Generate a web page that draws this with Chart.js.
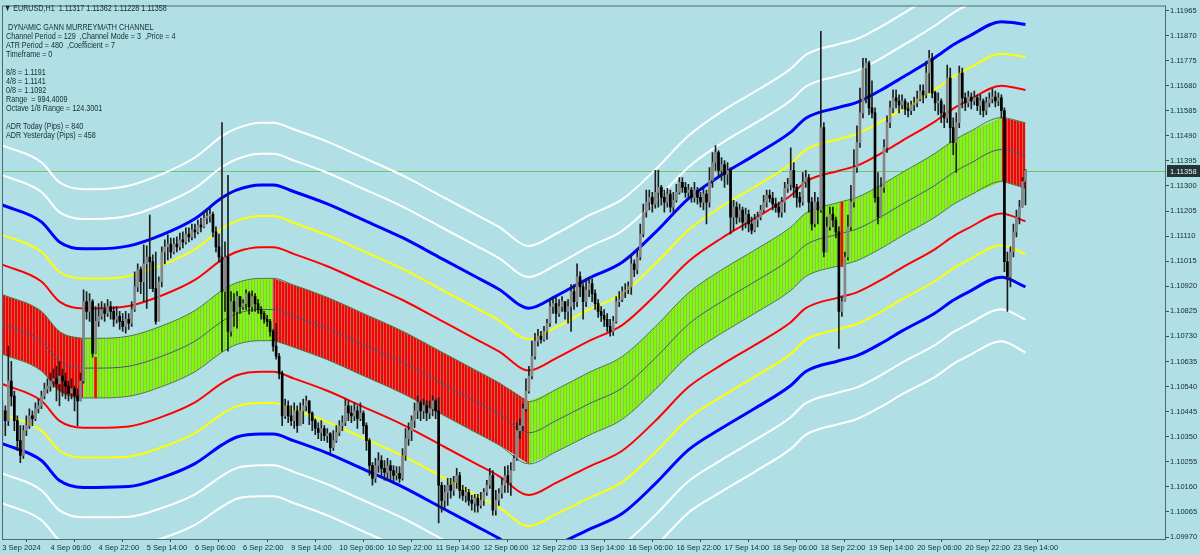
<!DOCTYPE html>
<html>
<head>
<meta charset="utf-8">
<script src="https://cdn.jsdelivr.net/npm/chart.js@4.4.1/dist/chart.umd.min.js"></script>
<style>
html, body { margin: 0; padding: 0; background: #b0e0e6; }
#wrap { position: relative; width: 1200px; height: 555px; }
#info div { position: absolute; white-space: pre; font: 9px "Liberation Sans", Arial, sans-serif; color: #142c2c; line-height: 10px; transform: scaleX(0.8); transform-origin: 0 0; }
</style>
</head>
<body>
<div id="wrap">
  <canvas id="mt" width="1200" height="555"></canvas>
  <div id="info"></div>
</div>
<script>
// prices in points above 1.10000 (1.11358 -> 1358)
const firstOpen = 411;
const closePts = [
  448,411,561,504,411,335,279,373,392,429,418,456,467,504,531,542,561,569,550,580,
  561,542,515,531,504,486,561,862,825,862,666,787,806,832,817,843,825,795,806,787,
  768,795,780,832,918,983,937,1005,1031,1013,911,787,937,1050,1069,1080,1050,1080,1069,1096,
  1088,1118,1107,1133,1126,1152,1145,1178,1186,1193,1126,1069,1031,900,1031,749,862,825,881,843,
  854,892,843,881,854,832,817,795,787,749,693,655,591,429,467,429,411,448,392,448,
  467,486,440,411,381,366,381,354,362,309,335,366,392,403,467,440,429,448,418,440,
  392,335,241,192,241,260,230,215,241,222,203,211,192,279,343,373,411,448,478,448,
  467,440,456,486,448,166,109,139,166,147,177,203,147,128,139,109,98,117,90,109,
  139,166,203,72,109,136,166,203,177,222,268,373,392,456,523,580,655,712,731,719,
  749,780,843,854,817,843,862,825,843,900,862,956,918,862,907,930,892,854,825,810,
  795,768,749,787,862,870,900,907,918,1005,983,1031,1118,1201,1239,1257,1231,1276,1295,1257,
  1239,1269,1220,1246,1276,1314,1295,1276,1284,1257,1284,1257,1239,1269,1239,1321,1389,1427,1359,1381,
  1344,1359,1182,1220,1182,1209,1163,1193,1156,1133,1171,1182,1209,1239,1265,1254,1231,1220,1201,1239,
  1291,1306,1359,1295,1257,1239,1314,1332,1239,1156,1239,1209,1521,1050,1145,1193,1171,1126,825,862,
  1031,1145,1239,1370,1464,1577,1747,1766,1596,1577,1257,1182,1295,1446,1540,1596,1634,1622,1607,1622,
  1592,1585,1607,1615,1630,1660,1645,1728,1784,1653,1615,1622,1577,1558,1709,1521,1464,1540,1728,1634,
  1615,1637,1622,1634,1604,1622,1585,1615,1630,1637,1622,1634,1585,1013,956,1050,1126,1182,1220,1317,
  1358
];
const highPts = [
  486,467,693,636,523,429,392,392,429,456,448,478,493,523,553,569,591,606,617,636,
  606,591,561,569,542,531,591,907,900,892,870,843,854,862,854,870,862,843,843,825,
  817,825,817,862,975,1005,994,1077,1073,1190,1039,1050,956,1069,1096,1115,1103,1103,1107,1122,
  1126,1141,1141,1156,1156,1171,1178,1201,1209,1216,1201,1145,1118,1540,1088,1340,900,892,900,881,
  870,907,900,903,892,870,843,825,810,795,757,780,666,599,493,486,467,478,467,478,
  493,504,486,444,418,403,411,392,381,366,373,392,411,429,493,486,467,478,467,478,
  448,403,343,252,268,290,279,260,268,260,241,237,237,305,381,403,429,478,504,486,
  493,486,486,504,493,497,177,166,192,192,200,230,215,166,158,151,128,132,132,139,
  154,185,230,222,147,154,192,237,241,252,279,403,418,474,569,617,712,742,757,749,
  768,795,870,877,877,870,881,862,870,926,926,1005,975,930,945,952,948,907,870,843,
  832,817,795,806,881,900,918,930,937,1039,1020,1058,1156,1231,1284,1284,1276,1359,1359,1302,
  1284,1291,1284,1276,1306,1332,1332,1314,1306,1295,1314,1295,1276,1295,1284,1370,1427,1453,1434,1408,
  1396,1389,1370,1246,1239,1231,1220,1216,1209,1182,1193,1201,1227,1265,1284,1284,1276,1254,1239,1257,
  1314,1329,1445,1389,1306,1276,1351,1359,1344,1257,1276,1257,1886,1540,1182,1220,1220,1182,1145,881,
  1050,1190,1302,1438,1528,1671,1784,1784,1773,1698,1596,1351,1332,1476,1566,1622,1664,1664,1645,1645,
  1630,1615,1622,1637,1660,1683,1683,1773,1814,1803,1660,1653,1630,1607,1758,1747,1558,1577,1754,1747,
  1653,1660,1653,1660,1645,1645,1630,1637,1653,1668,1660,1653,1645,1596,1050,1069,1156,1209,1246,1332,
  1362
];
const lowPts = [
  335,354,392,467,373,298,252,268,354,381,392,411,440,456,493,515,523,538,486,467,
  504,493,486,493,448,392,486,553,795,787,651,666,768,795,787,806,795,768,780,757,
  749,742,757,768,825,900,892,862,836,911,900,776,825,918,1005,1020,1027,1043,1050,1058,
  1065,1080,1088,1096,1103,1118,1126,1141,1156,1163,1107,1050,1013,674,825,674,731,768,761,817,
  832,832,814,825,825,817,795,780,768,731,674,644,569,392,418,403,392,381,366,392,
  399,448,396,373,358,343,335,335,328,290,298,328,354,373,392,411,403,411,381,411,
  362,298,203,166,177,215,203,185,192,185,177,185,177,185,260,317,335,384,418,411,
  418,411,418,429,418,23,64,79,90,117,128,154,117,109,102,90,72,64,64,79,
  90,128,154,53,53,90,117,139,139,128,222,260,343,373,448,515,569,644,693,704,
  712,719,768,817,780,806,825,795,780,749,832,843,881,795,843,881,862,832,802,787,
  768,749,731,734,780,843,862,877,892,889,956,967,1020,1107,1182,1209,1201,1216,1220,1227,
  1201,1220,1201,1201,1239,1269,1276,1257,1254,1239,1239,1231,1220,1209,1156,1220,1295,1359,1332,1321,
  1295,1306,1118,1133,1156,1163,1133,1141,1126,1118,1126,1145,1171,1201,1220,1239,1209,1201,1182,1182,
  1201,1276,1284,1257,1220,1220,1227,1295,1201,1133,1145,1156,1201,1031,1050,1133,1145,1103,685,806,
  862,1020,1133,1220,1351,1446,1558,1615,1570,1558,1239,1156,1182,1276,1427,1521,1577,1596,1577,1592,
  1570,1562,1570,1585,1600,1622,1615,1634,1653,1634,1585,1570,1540,1521,1540,1464,1419,1351,1521,1596,
  1585,1600,1592,1607,1585,1570,1562,1570,1600,1615,1600,1604,1558,975,825,918,1031,1107,1156,1220,
  1228
];

// channel centre (4/8) and octave size, sampled at these bars
const centerBars = [0,13,19,27,31,42,53,64,73,78,86,90,97,108,119,133,146,157,165,175,184,195,206,217,228,239,250,262,267,278,284,293,299,310,316,321,332,340];
const centerPts  = [776,712,636,610,610,617,655,712,787,817,832,832,806,760,704,632,553,486,437,365,411,475,535,648,776,862,937,1024,1077,1118,1137,1190,1231,1303,1351,1382,1438,1415];
const octavePts  = [113,113,113,113,113,114,115,116,117,117,118,118,118,118,118,118,118,118,118,118,118,119,119,119,119,120,120,120,120,120,120,120,120,121,121,121,121,124.3];

// histogram regime between 5/8 and 3/8
const regimeStart = [0, 27, 90, 175, 332];
const regimeEnd   = [27, 90, 175, 332, 340];
const regimeColor = ['red', 'green', 'red', 'green', 'red'];
const flipBars = [31, 279];
const flipLoPts = [497, 994];
const flipHiPts = [651, 1239];

const lastPts = 1358;

const xTickBars = [0,16,32,48,64,80,96,112,128,144,160,176,192,208,224,240,256,272,288,304,320,336];
const xLabels = ['3 Sep 2024','4 Sep 06:00','4 Sep 22:00','5 Sep 14:00','6 Sep 06:00','6 Sep 22:00','9 Sep 14:00',
  '10 Sep 06:00','10 Sep 22:00','11 Sep 14:00','12 Sep 06:00','12 Sep 22:00','13 Sep 14:00','16 Sep 06:00',
  '16 Sep 22:00','17 Sep 14:00','18 Sep 06:00','18 Sep 22:00','19 Sep 14:00','20 Sep 06:00','20 Sep 22:00','23 Sep 14:00'];
const yTickPts = [-30,65,160,255,350,445,540,635,730,825,920,1015,1110,1205,1300,1395,1490,1585,1680,1775,1870,1965];

const infoLines = [
  [4, 7.5, '\u25BC EURUSD,H1  1.11317 1.11362 1.11228 1.11358'],
  [6, 26.7, ' DYNAMIC GANN MURREYMATH CHANNEL'],
  [6, 35.7, 'Channel Period = 129  ,Channel Mode = 3  ,Price = 4'],
  [6, 44.7, 'ATR Period = 480  ,Coefficient = 7'],
  [6, 53.7, 'Timeframe = 0'],
  [6, 71.7, '8/8 = 1.1191'],
  [6, 80.7, '4/8 = 1.1141'],
  [6, 89.7, '0/8 = 1.1092'],
  [6, 98.7, 'Range  = 994.4009'],
  [6, 107.7, 'Octave 1/8 Range = 124.3001'],
  [6, 126, 'ADR Today (Pips) = 840'],
  [6, 135, 'ADR Yesterday (Pips) = 458']
];

const P = v => 1.1 + v / 100000;
const TXT = '#142c2c';
const FONT = { family: '"Liberation Sans", Arial, sans-serif', size: 7.5 };

const info = document.getElementById('info');
infoLines.forEach(([x, y, t]) => {
  const d = document.createElement('div');
  d.style.left = x + 'px';
  d.style.top = (y - 5) + 'px';
  d.textContent = t;
  info.appendChild(d);
});

function stripes(main, gap) {
  const c = document.createElement('canvas');
  c.width = 3; c.height = 1;
  const g = c.getContext('2d');
  g.fillStyle = main; g.fillRect(0, 0, 2, 1);
  g.fillStyle = gap; g.fillRect(2, 0, 1, 1);
  return g.createPattern(c, 'repeat');
}
const hatch = { green: stripes('#7cfc00', '#98b86c'), red: stripes('#ff0000', '#b46a5c') };

const opens = closePts.map((c, i) => i === 0 ? firstOpen : closePts[i - 1]);

function level(k, from, to) {
  const pts = [];
  centerBars.forEach((b, j) => {
    if (b >= from && b <= to) pts.push({ x: b, y: P(centerPts[j] + k * octavePts[j]) });
  });
  return pts;
}

const lineStyles = [
  [6, '#ffffff', 2], [5, '#ffffff', 2], [4, '#0000ff', 3], [3, '#ffff00', 2], [2, '#ff0000', 2],
  [1, '#4f7a45', 1], [0, '#48587c', 1], [-1, '#4f7a45', 1],
  [-2, '#ff0000', 2], [-3, '#ffff00', 2], [-4, '#0000ff', 3], [-5, '#ffffff', 2], [-6, '#ffffff', 2]
];

const datasets = [];

// hatched band, one pair of lines per regime
regimeStart.forEach((s, r) => {
  const e = regimeEnd[r];
  datasets.push({ type: 'line', data: level(1, s, e), borderWidth: 0, pointRadius: 0,
    cubicInterpolationMode: 'monotone', fill: false, order: 6 });
  datasets.push({ type: 'line', data: level(-1, s, e), borderWidth: 0, pointRadius: 0,
    cubicInterpolationMode: 'monotone', fill: '-1', backgroundColor: hatch[regimeColor[r]], order: 6 });
});

datasets.push({ type: 'bar', grouped: false, barThickness: 2, order: 5, backgroundColor: '#ff0000',
  data: flipBars.map((b, i) => ({ x: b, y: [P(flipLoPts[i]), P(flipHiPts[i])] })) });

lineStyles.forEach(([k, col, w]) => {
  datasets.push({ type: 'line', data: level(k, 0, 340), borderColor: col, borderWidth: w,
    pointRadius: 0, cubicInterpolationMode: 'monotone', fill: false, order: 3 });
});

// candles
datasets.push({ type: 'bar', grouped: false, barThickness: 1, order: 1, backgroundColor: '#1e1e1e',
  data: closePts.map((c, i) => ({ x: i, y: [P(lowPts[i]), P(highPts[i])] })) });
datasets.push({ type: 'bar', grouped: false, barThickness: 2, minBarLength: 1, order: 0,
  backgroundColor: closePts.map((c, i) => c >= opens[i] ? '#868686' : '#000000'),
  data: closePts.map((c, i) => ({ x: i, y: [P(opens[i]), P(c)] })) });

const overlay = {
  id: 'overlay',
  beforeDatasetsDraw(chart) {
    const { ctx, chartArea: a, scales: { y } } = chart;
    const py = Math.round(y.getPixelForValue(P(lastPts))) + 0.5;
    ctx.save();
    ctx.strokeStyle = '#6cc46c';
    ctx.lineWidth = 1;
    ctx.beginPath(); ctx.moveTo(a.left, py); ctx.lineTo(a.right, py); ctx.stroke();
    ctx.restore();
  },
  afterDraw(chart) {
    const { ctx, chartArea: a, scales: { y } } = chart;
    ctx.save();
    ctx.strokeStyle = '#4c6868';
    ctx.lineWidth = 1;
    ctx.strokeRect(a.left + 0.5, a.top + 0.5, a.right - a.left - 1, a.bottom - a.top);
    const py = Math.round(y.getPixelForValue(P(lastPts)));
    ctx.fillStyle = '#233434';
    ctx.fillRect(a.right + 1, py - 6, 33, 12);
    ctx.fillStyle = '#e8f0f0';
    ctx.font = '7.5px "Liberation Sans", Arial, sans-serif';
    ctx.textBaseline = 'middle';
    ctx.fillText(P(lastPts).toFixed(5), a.right + 4, py + 0.5);
    ctx.restore();
  }
};

new Chart(document.getElementById('mt'), {
  type: 'bar',
  data: { datasets },
  plugins: [overlay],
  options: {
    responsive: false,
    animation: false,
    events: [],
    layout: { padding: { left: 2, top: 2, right: 0, bottom: 0 } },
    plugins: { legend: { display: false }, tooltip: { enabled: false } },
    scales: {
      x: {
        type: 'linear', min: -0.1, max: 386.7, offset: false,
        grid: { drawOnChartArea: false, drawTicks: true, tickLength: 3, color: '#3c5050' },
        border: { display: false },
        ticks: { align: 'start', padding: 1, autoSkip: false, maxRotation: 0, minRotation: 0,
          font: FONT, color: TXT, callback: (v, i) => xLabels[i] },
        afterBuildTicks: s => { s.ticks = xTickBars.map(v => ({ value: v })); },
        afterFit: s => { s.height = 16; }
      },
      y: {
        type: 'linear', position: 'right', min: 1.099625, max: 1.119838,
        grid: { drawOnChartArea: false, drawTicks: true, tickLength: 3, color: '#3c5050' },
        border: { display: false },
        ticks: { padding: 1, autoSkip: false, font: FONT, color: TXT, callback: v => v.toFixed(5) },
        afterBuildTicks: s => { s.ticks = yTickPts.map(p => ({ value: P(p) })); },
        afterFit: s => { s.width = 34; }
      }
    }
  }
});
</script>
</body>
</html>
